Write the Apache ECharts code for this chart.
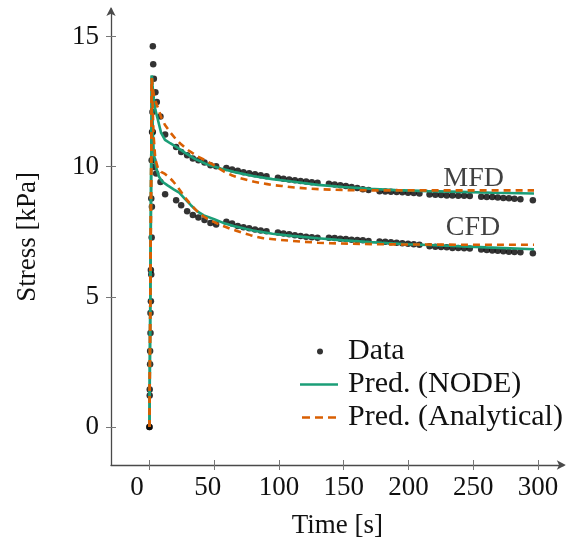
<!DOCTYPE html>
<html>
<head>
<meta charset="utf-8">
<script src="https://cdn.jsdelivr.net/npm/echarts@6/dist/echarts.min.js"></script>
<style>html,body{margin:0;padding:0;background:#fff;}#c{width:566px;height:544px;}</style>
</head>
<body>
<div id="c"></div>
<script>
// ---------- data ----------
const xTicks = [0, 50, 100, 150, 200, 250, 300];
const yTicks = [0, 5, 10, 15];

const mfdDataT = [0, 0.2, 0.5, 0.8, 1.1, 1.4, 1.7, 2.0, 2.6, 2.9, 3.4, 4.6, 5.7, 8.5, 12.1,
  20.6, 24.5, 29.1, 33.5, 37.8, 42.5, 47.1, 51.5,
  59.4, 63.8, 68.2, 72.6, 77.0, 81.5, 85.9, 90.4,
  99.2, 103.5, 107.9, 112.3, 116.7, 121.0, 125.4, 129.8,
  138.6, 143.0, 147.4, 151.7, 156.1, 160.5, 164.8, 169.2,
  177.7, 182.1, 186.5, 190.9, 195.3, 199.7, 204.1, 208.5,
  216.3, 220.8, 225.2, 229.6, 234.0, 238.5, 243.0, 247.4,
  256.2, 260.5, 264.8, 269.0, 273.3, 277.6, 281.9, 286.5,
  296.1];
const mfdDataY = [0, 1.44, 2.92, 4.38, 6.03, 8.78, 10.25, 11.33, 14.63, 13.93, 13.38, 12.86, 12.48, 11.93, 11.24,
  10.76, 10.56, 10.44, 10.31, 10.25, 10.16, 10.05, 10.02,
  9.95, 9.89, 9.84, 9.79, 9.75, 9.71, 9.67, 9.63,
  9.57, 9.54, 9.51, 9.48, 9.45, 9.43, 9.40, 9.38,
  9.34, 9.31, 9.29, 9.26, 9.22, 9.18, 9.13, 9.10,
  9.06, 9.05, 9.04, 9.03, 9.02, 9.00, 8.99, 8.97,
  8.93, 8.92, 8.91, 8.89, 8.89, 8.88, 8.88, 8.87,
  8.84, 8.83, 8.83, 8.82, 8.80, 8.79, 8.77, 8.75,
  8.71];

const cfdDataT = [0, 0.2, 0.5, 0.8, 1.1, 1.4, 1.7, 1.9, 2.3, 2.6, 3.0, 3.4, 5.2, 8.5, 12.1,
  20.6, 24.5, 29.1, 33.5, 37.8, 42.5, 47.1, 51.5,
  59.4, 63.8, 68.2, 72.6, 77.0, 81.5, 85.9, 90.4,
  99.2, 103.5, 107.9, 112.3, 116.7, 121.0, 125.4, 129.8,
  138.6, 143.0, 147.4, 151.7, 156.1, 160.5, 164.8, 169.2,
  177.7, 182.1, 186.5, 190.9, 195.3, 199.7, 204.1, 208.5,
  216.3, 220.8, 225.2, 229.6, 234.0, 238.5, 243.0, 247.4,
  256.2, 260.5, 264.8, 269.0, 273.3, 277.6, 281.9, 286.5,
  296.1];
const cfdDataY = [0, 1.21, 2.41, 3.61, 4.83, 5.86, 7.28, 8.46, 12.10, 11.33, 10.25, 9.99, 9.74, 9.41, 8.94,
  8.71, 8.52, 8.29, 8.14, 8.05, 7.95, 7.84, 7.78,
  7.88, 7.82, 7.72, 7.67, 7.63, 7.59, 7.55, 7.52,
  7.47, 7.43, 7.40, 7.37, 7.34, 7.31, 7.29, 7.27,
  7.27, 7.26, 7.23, 7.22, 7.19, 7.18, 7.17, 7.14,
  7.13, 7.12, 7.10, 7.08, 7.06, 7.04, 7.02, 7.00,
  6.94, 6.92, 6.91, 6.90, 6.88, 6.88, 6.87, 6.86,
  6.82, 6.80, 6.78, 6.77, 6.75, 6.73, 6.72, 6.71,
  6.67];

const mfdNodeT = [0, 1.8, 2.4, 3.4, 4.5, 6.5, 9, 12, 16, 21, 27, 35, 45, 55, 65, 80, 95, 110, 130, 150, 170, 190, 215, 240, 265, 297];
const mfdNodeY = [0, 13.5, 13.1, 12.6, 12.2, 11.8, 11.3, 11.03, 10.9, 10.75, 10.55, 10.3, 10.08, 9.93, 9.8, 9.64, 9.52, 9.43, 9.3, 9.22, 9.15, 9.1, 9.06, 9.03, 9.0, 8.97];

const mfdAnaT = [0, 1.8, 2.5, 4, 6.7, 9, 12, 16, 20, 24, 30, 37, 44, 50, 58, 64, 70, 76, 81, 86, 91, 96, 102, 112, 122, 133, 150, 170, 200, 250, 297];
const mfdAnaY = [0, 13.4, 13.0, 12.6, 12.24, 11.9, 11.6, 11.32, 11.08, 10.88, 10.63, 10.40, 10.22, 10.05, 9.80, 9.66, 9.56, 9.48, 9.42, 9.37, 9.33, 9.29, 9.26, 9.2, 9.16, 9.13, 9.1, 9.09, 9.09, 9.09, 9.09];

const cfdNodeT = [0, 1.8, 2.2, 2.7, 3.3, 4.2, 5.5, 7.5, 10, 14, 19, 23, 27, 32, 37, 42, 50, 57, 65, 80, 95, 110, 130, 150, 170, 200, 230, 260, 297];
const cfdNodeY = [0, 13.5, 12.2, 11.2, 10.6, 10.2, 9.9, 9.6, 9.42, 9.28, 9.12, 9.0, 8.78, 8.52, 8.28, 8.13, 7.98, 7.84, 7.72, 7.55, 7.42, 7.34, 7.25, 7.17, 7.1, 7.02, 6.96, 6.9, 6.83];

const cfdAnaT = [0, 1.8, 2.5, 3.2, 4.5, 6.5, 9, 12, 15, 18, 21, 24.5, 28, 31, 35, 38, 42, 47, 52, 57, 62, 67, 72, 78, 83, 88, 94, 100, 110, 120, 130, 140, 155, 175, 200, 250, 297];
const cfdAnaY = [0, 13.4, 12.2, 11.2, 10.3, 9.95, 9.8, 9.72, 9.6, 9.45, 9.27, 9.03, 8.78, 8.6, 8.38, 8.23, 8.08, 7.94, 7.82, 7.72, 7.62, 7.54, 7.46, 7.37, 7.3, 7.25, 7.22, 7.19, 7.15, 7.11, 7.08, 7.06, 7.04, 7.02, 7.01, 7.0, 7.0];

const annoText = ['MFD', 'CFD'];
const annoT = [250.4, 249.9];
const annoY = [9.54, 7.64];

// ---------- chart ----------
const FONT = "'Liberation Serif','DejaVu Serif',serif";
const FS = 27;      // axis text
const FSL = 30;     // legend text
const FSA = 28;     // curve annotations
const GREEN = '#1b9e77', ORANGE = '#d95f02';
const zip = (a, b) => a.map((v, i) => [v, b[i]]);

const xMin = -29.7, xMax = 320, yMin = -1.46, yMax = 16.06;
const axisColor = '#4a4a4a';

const legendText = (pad) => ({
  fontFamily: FONT, fontSize: FSL, color: '#111', lineHeight: 33,
  rich: {t: {fontFamily: FONT, fontSize: FSL, color: '#111', lineHeight: 33, padding: [0, 0, 0, pad]}}
});

const chart = echarts.init(document.getElementById('c'), null, {renderer: 'canvas'});
chart.setOption({
  animation: false,
  grid: {left: 111, right: 2.2, top: 8.9, bottom: 78, containLabel: false},
  xAxis: [{
    type: 'value', min: xMin, max: xMax, position: 'bottom',
    name: 'Time [s]', nameLocation: 'middle', nameGap: 47,
    nameTextStyle: {fontFamily: FONT, fontSize: FS, color: '#111'},
    axisLine: {show: true, onZero: false, lineStyle: {color: axisColor, width: 1.3}, symbol: ['none', 'arrow'], symbolSize: [7, 9], symbolOffset: [0, 2]},
    axisTick: {show: true, inside: false, length: 5, customValues: xTicks, lineStyle: {color: '#777'}},
    axisLabel: {
      show: true, margin: 9, customValues: xTicks, fontFamily: FONT, fontSize: FS, color: '#111',
      formatter: function (v) { if (v === 0) return '{a|0}'; if (v === 50) return '{b|50}'; return String(v); },
      rich: {a: {fontFamily: FONT, fontSize: FS, color: '#111', padding: [0, 25, 0, 0]},
             b: {fontFamily: FONT, fontSize: FS, color: '#111', padding: [0, 13, 0, 0]}}
    },
    splitLine: {show: false}
  }, {
    type: 'value', min: xMin, max: xMax, position: 'bottom',
    axisLine: {show: false, onZero: false}, axisLabel: {show: false}, splitLine: {show: false},
    axisTick: {show: true, inside: true, length: 5, customValues: xTicks, lineStyle: {color: '#777'}}
  }],
  yAxis: [{
    type: 'value', min: yMin, max: yMax, position: 'left',
    name: 'Stress [kPa]', nameLocation: 'middle', nameGap: 70,
    nameTextStyle: {fontFamily: FONT, fontSize: FS, color: '#111'},
    axisLine: {show: true, onZero: false, lineStyle: {color: axisColor, width: 1.3}, symbol: ['none', 'arrow'], symbolSize: [7, 9], symbolOffset: [0, 2]},
    axisTick: {show: true, inside: false, length: 5, customValues: yTicks, lineStyle: {color: '#777'}},
    axisLabel: {show: true, margin: 12, customValues: yTicks, fontFamily: FONT, fontSize: FS, color: '#111'},
    splitLine: {show: false}
  }, {
    type: 'value', min: yMin, max: yMax, position: 'left',
    axisLine: {show: false, onZero: false}, axisLabel: {show: false}, splitLine: {show: false},
    axisTick: {show: true, inside: true, length: 5, customValues: yTicks, lineStyle: {color: '#777'}}
  }],
  legend: [{
    data: [{name: 'Data', icon: 'circle'}], orient: 'vertical', left: 312, top: 330,
    itemWidth: 6, itemHeight: 6, itemGap: 0,
    formatter: n => '{t|' + n + '}',
    textStyle: legendText(20)
  }, {
    data: [
      {name: 'Pred. (NODE)', icon: 'path://M0,0H38V2.6H0Z'},
      {name: 'Pred. (Analytical)', icon: 'path://M0,0H8V2.6H0Z M13,0H21V2.6H13Z M26,0H34V2.6H26Z'}
    ],
    orient: 'vertical', left: 295, top: 363,
    itemWidth: 38, itemHeight: 2.6, itemGap: 0,
    formatter: n => '{t|' + n + '}',
    textStyle: legendText(5)
  }],
  series: [
    {name: 'Data', type: 'scatter', data: zip(mfdDataT, mfdDataY), symbol: 'circle', symbolSize: 6.5, itemStyle: {color: '#000'}, z: 2},
    {name: 'Data', type: 'scatter', data: zip(cfdDataT, cfdDataY), symbol: 'circle', symbolSize: 6.5, itemStyle: {color: '#000'}, z: 2},
    {name: 'Pred. (NODE)', type: 'line', data: zip(mfdNodeT, mfdNodeY), showSymbol: false, symbol: 'none', itemStyle: {color: GREEN}, lineStyle: {color: GREEN, width: 2.6}, z: 3},
    {name: 'Pred. (NODE)', type: 'line', data: zip(cfdNodeT, cfdNodeY), showSymbol: false, symbol: 'none', itemStyle: {color: GREEN}, lineStyle: {color: GREEN, width: 2.6}, z: 3},
    {name: 'Pred. (Analytical)', type: 'line', data: zip(mfdAnaT, mfdAnaY), showSymbol: false, symbol: 'none', itemStyle: {color: ORANGE}, lineStyle: {color: ORANGE, width: 2.6, type: [7, 5]}, z: 4},
    {name: 'Pred. (Analytical)', type: 'line', data: zip(cfdAnaT, cfdAnaY), showSymbol: false, symbol: 'none', itemStyle: {color: ORANGE}, lineStyle: {color: ORANGE, width: 2.6, type: [7, 5]}, z: 4},
    {name: 'labels', type: 'scatter', silent: true, symbolSize: 0,
     data: annoText.map((s, i) => ({name: s, value: [annoT[i], annoY[i]]})),
     label: {show: true, position: 'inside', formatter: '{b}', fontFamily: FONT, fontSize: FSA, color: '#111'}, z: 5}
  ]
});
</script>
</body>
</html>
